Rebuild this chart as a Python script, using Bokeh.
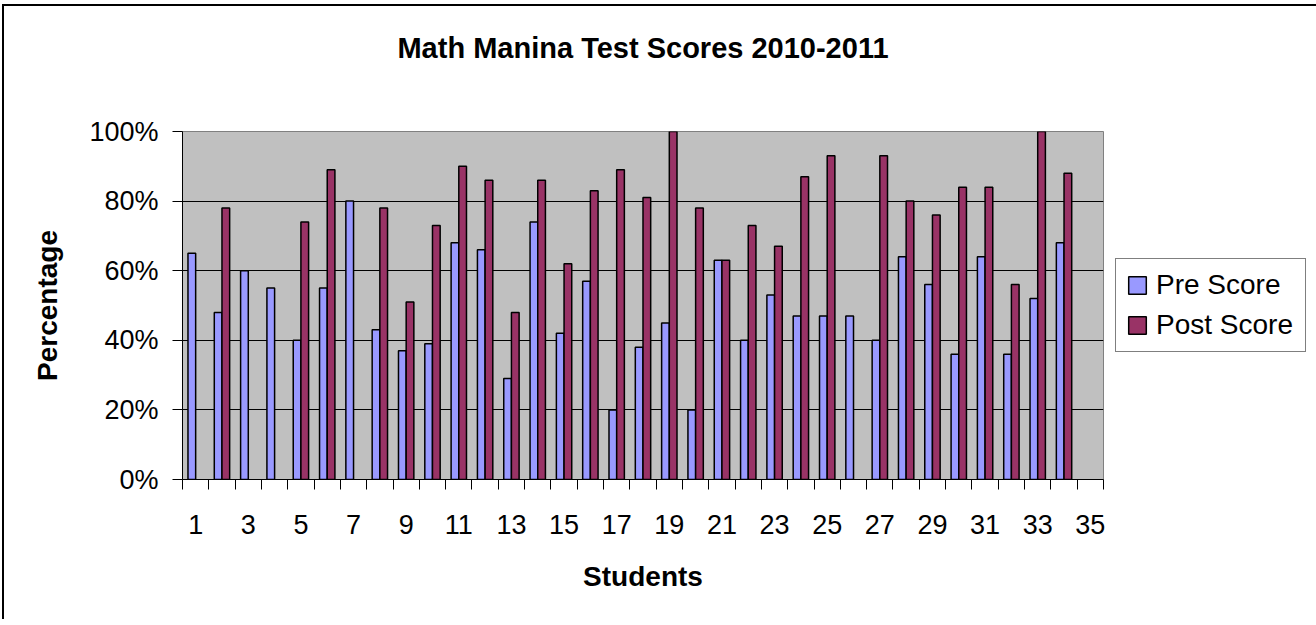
import numpy as np
from bokeh.plotting import figure
from bokeh.models import (ColumnDataSource, FixedTicker, Legend, LegendItem, Title)
from bokeh.transform import dodge
from bokeh.embed import file_html
from bokeh.resources import INLINE

# ---------------- data ----------------
students = [1, 2, 3, 4, 5, 6, 7, 8, 9, 10, 11, 12, 13, 14, 15, 16, 17, 18,
            19, 20, 21, 22, 23, 24, 25, 26, 27, 28, 29, 30, 31, 32, 33, 34, 35]
pre_score = [65, 48, 60, 55, 40, 55, 80, 43, 37, 39, 68, 66, 29, 74, 42, 57, 20, 38,
             45, 20, 63, 40, 53, 47, 47, 47, 40, 64, 56, 36, 64, 36, 52, 68, None]
post_score = [None, 78, None, None, 74, 89, None, 78, 51, 73, 90, 86, 48, 86, 62, 83, 89, 81,
              100, 78, 63, 73, 67, 87, 93, None, 93, 80, 76, 84, 84, 56, 100, 88, None]
x_tick_students = [1, 3, 5, 7, 9, 11, 13, 15, 17, 19, 21, 23, 25, 27, 29, 31, 33, 35]
y_ticks = [0, 20, 40, 60, 80, 100]
y_tick_labels = ["0%", "20%", "40%", "60%", "80%", "100%"]
series_names = ["Pre Score", "Post Score"]
title_text = "Math Manina Test Scores 2010-2011"
x_title = "Students"
y_title = "Percentage"

# ---------------- layout constants ----------------
FONT = "Liberation Sans"
PRE_COLOR = "#9999FF"
POST_COLOR = "#993366"
FRAME_L, FRAME_R, FRAME_T, FRAME_B = 182, 1103, 131, 479   # reference image px
OFF_X, OFF_Y = 4, 6                                          # canvas origin in image px

x_lo, x_hi = 0.5, len(students) + 0.5
y_lo, y_hi = 0, 100

src = ColumnDataSource(dict(
    student=students,
    pre=np.array(pre_score, dtype=float),
    post=np.array(post_score, dtype=float),
))

p = figure(frame_width=FRAME_R - FRAME_L, frame_height=FRAME_B - FRAME_T,
           x_range=(x_lo, x_hi), y_range=(y_lo, y_hi),
           output_backend="svg", toolbar_location=None,
           min_border_left=FRAME_L - OFF_X, min_border_top=FRAME_T - OFF_Y,
           min_border_right=200, min_border_bottom=140)

p.styles = {"margin-left": "2px", "margin-top": "4px",
            "border-left": "2px solid black", "border-top": "2px solid black"}

p.background_fill_color = "#C0C0C0"
p.border_fill_color = "white"
p.outline_line_color = "#808080"
p.outline_line_width = 1

# title: an empty-height spacer next to the frame, then the real title above it
p.title.text = ""
p.add_layout(Title(text=" ", text_font=FONT, text_font_size="10px", standoff=54), "above")
p.add_layout(Title(text=title_text, align="center", text_font=FONT,
                   text_font_size="29px", text_font_style="bold", text_color="black",
                   vertical_align="middle", standoff=0), "above")

# grid
p.xgrid.visible = False
p.ygrid.ticker = FixedTicker(ticks=[20, 40, 60, 80])
p.ygrid.grid_line_color = "black"
p.ygrid.grid_line_width = 1

bw = 0.292
r_pre = p.vbar(x=dodge("student", -bw / 2), top="pre", width=bw, source=src,
               fill_color=PRE_COLOR, line_color="black", line_width=1.5)
r_post = p.vbar(x=dodge("student", bw / 2), top="post", width=bw, source=src,
                fill_color=POST_COLOR, line_color="black", line_width=1.5)

# x axis
xa = p.xaxis[0]
xa.ticker = FixedTicker(ticks=x_tick_students,
                        minor_ticks=[s - 0.5 for s in students] + [students[-1] + 0.5])
xa.major_tick_line_color = None
xa.major_tick_out = 0
xa.major_tick_in = 0
xa.minor_tick_line_color = "black"
xa.minor_tick_out = 10
xa.minor_tick_in = 0
xa.axis_line_color = "black"
xa.major_label_text_font = FONT
xa.major_label_text_font_size = "27px"
xa.major_label_text_color = "black"
xa.major_label_standoff = 25
xa.axis_label = x_title
xa.axis_label_text_font = FONT
xa.axis_label_text_font_size = "28px"
xa.axis_label_text_font_style = "bold"
xa.axis_label_text_color = "black"
xa.axis_label_standoff = 24

# y axis
ya = p.yaxis[0]
ya.ticker = FixedTicker(ticks=y_ticks)
ya.major_label_overrides = {t: l for t, l in zip(y_ticks, y_tick_labels)}
ya.minor_tick_line_color = None
ya.major_tick_line_color = "black"
ya.major_tick_out = 10
ya.major_tick_in = 0
ya.axis_line_color = "black"
ya.major_label_text_font = FONT
ya.major_label_text_font_size = "27px"
ya.major_label_text_color = "black"
ya.major_label_standoff = 14
ya.axis_label = y_title
ya.axis_label_text_font = FONT
ya.axis_label_text_font_size = "28px"
ya.axis_label_text_font_style = "bold"
ya.axis_label_text_color = "black"
ya.axis_label_standoff = 23

legend = Legend(items=[LegendItem(label=series_names[0], renderers=[r_pre]),
                       LegendItem(label=series_names[1], renderers=[r_post])],
                location="center_left")
legend.label_text_font = FONT
legend.label_text_font_size = "28px"
legend.label_text_color = "black"
legend.glyph_width = 22
legend.glyph_height = 22
legend.label_standoff = 8
legend.label_width = 139
legend.padding = 10
legend.spacing = 8
legend.margin = 12
legend.border_line_color = "black"
legend.border_line_width = 1
legend.background_fill_color = "white"
legend.background_fill_alpha = 1
p.add_layout(legend, "right")

open("out.html", "w").write(file_html(p, INLINE))
